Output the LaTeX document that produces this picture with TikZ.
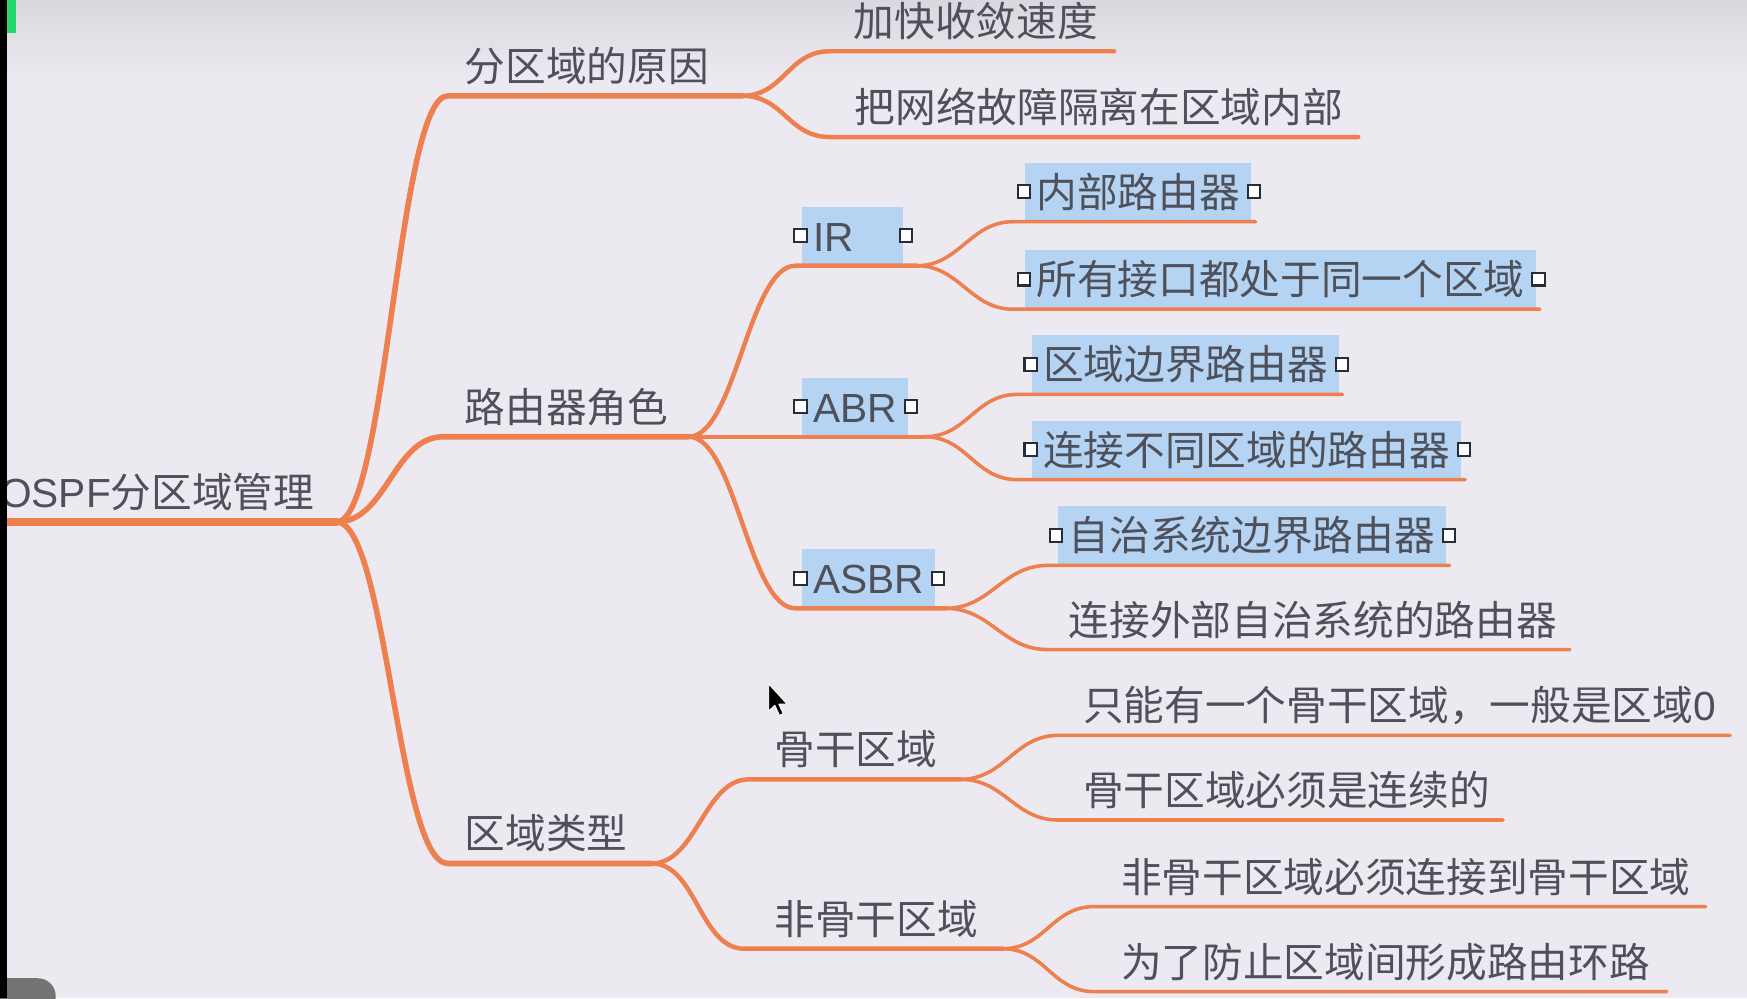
\documentclass[tikz,border=0pt]{standalone}
\usepackage{fontspec}
\newfontfamily\cjk{Noto Sans CJK SC}
\newfontfamily\lat{Liberation Sans}
\definecolor{bgc}{RGB}{236,233,240}
\definecolor{topc}{RGB}{218,216,222}
\definecolor{orc}{RGB}{238,128,80}
\definecolor{txtc}{RGB}{78,80,90}
\definecolor{hlc}{RGB}{181,211,243}
\definecolor{grn}{RGB}{40,214,110}
\definecolor{hdc}{RGB}{40,44,54}
\begin{document}
\begin{tikzpicture}[x=1pt,y=-1pt,
  txt/.style={font=\cjk\fontsize{36.5}{40}\selectfont, text=txtc, inner sep=0pt, anchor=base west},
  hlbox/.style={txt, fill=hlc, inner xsep=10pt, inner ysep=9pt, text height=31pt, text depth=3pt},
  handle/.style={draw=hdc, fill=white, line width=1.9pt, minimum width=11pt, minimum height=11.5pt, inner sep=0pt, rectangle},
  lk/.style={draw=orc, line cap=round, line join=round},
  l0/.style={lk, line width=7pt},
  l1/.style={lk, line width=5pt},
  l2/.style={lk, line width=4pt},
  l3/.style={lk, line width=3.2pt},
]
\useasboundingbox (0,0) rectangle (1568,896);
\fill[bgc] (0,0) rectangle (1568,896);
\shade[top color=topc, bottom color=bgc] (0,0) rectangle (1568,70);
\begin{scope}
\clip (0,0) rectangle (1568,896);

% coordinates (underline starts / junctions)
\coordinate (R0) at (7,468.5);
\coordinate (J0) at (302,468.5);
\coordinate (As) at (402,86);   \coordinate (Ja) at (666,86);
\coordinate (Bs) at (398,392);  \coordinate (J1) at (618,392);
\coordinate (Cs) at (402,775);  \coordinate (J3) at (585,775);
\coordinate (A1s) at (745,46);  \coordinate (A1e) at (1000,46);
\coordinate (A2s) at (745,123); \coordinate (A2e) at (1219,123);
\coordinate (IRs) at (714,238.5); \coordinate (JIR) at (823,238.5);
\coordinate (JABR) at (830,392);
\coordinate (ASs) at (714,546); \coordinate (JAS) at (849,546);
\coordinate (I1s) at (909,199);   \coordinate (I1e) at (1127,199);
\coordinate (I2s) at (909,277.5); \coordinate (I2e) at (1382,277.5);
\coordinate (B1s) at (913,354);   \coordinate (B1e) at (1205,354);
\coordinate (B2s) at (913,430.5); \coordinate (B2e) at (1315,430.5);
\coordinate (S1s) at (940,507.5); \coordinate (S1e) at (1301,507.5);
\coordinate (S2s) at (940,583);   \coordinate (S2e) at (1409,583);
\coordinate (BBs) at (672,699.5); \coordinate (JBB) at (862,699.5);
\coordinate (NBs) at (668,851.5); \coordinate (JNB) at (900,851.5);
\coordinate (K1s) at (950,660);   \coordinate (K1e) at (1553,660);
\coordinate (K2s) at (950,736);   \coordinate (K2e) at (1349,736);
\coordinate (N1s) at (982,813.7); \coordinate (N1e) at (1531,813.7);
\coordinate (N2s) at (982,890);   \coordinate (N2e) at (1496,890);

% topic nodes
\node[txt] (root) at (0,455.5) {{\lat OSPF}分区域管理};
\node[txt] (A) at (417,73) {分区域的原因};
\node[txt] (B) at (417,379) {路由器角色};
\node[txt] (C) at (417,762) {区域类型};
\node[txt] (A1) at (766,33) {加快收敛速度};
\node[txt] (A2) at (767,110) {把网络故障隔离在区域内部};
\node[hlbox] (IR) at (719.5,225.5) {{\lat IR}\kern34pt};
\node[hlbox] (ABR) at (719.5,379) {{\lat ABR}};
\node[hlbox] (ASBR) at (719.5,533) {{\lat ASBR}};
\node[hlbox] (I1) at (920,186) {内部路由器};
\node[hlbox] (I2) at (920,264.5) {所有接口都处于同一个区域};
\node[hlbox] (B1) at (926,341) {区域边界路由器};
\node[hlbox] (B2) at (926,417.5) {连接不同区域的路由器};
\node[hlbox] (S1) at (949,494.5) {自治系统边界路由器};
\node[txt] (S2) at (959,570) {连接外部自治系统的路由器};
\node[txt] (BB) at (695,686.5) {骨干区域};
\node[txt] (NB) at (695,838.5) {非骨干区域};
\node[txt] (K1) at (972,647) {只能有一个骨干区域，一般是区域{\lat 0}};
\node[txt] (K2) at (972,723) {骨干区域必须是连续的};
\node[txt] (N1) at (1006,800.7) {非骨干区域必须连接到骨干区域};
\node[txt] (N2) at (1006,877) {为了防止区域间形成路由环路};

% connectors
\draw[l0] (R0) -- (J0);
\draw[l1] (J0) .. controls +(45,0) and +(-45,0) .. (As) -- (Ja);
\draw[l1] (J0) .. controls +(45,0) and +(-45,0) .. (Bs) -- (J1);
\draw[l1] (J0) .. controls +(45,0) and +(-45,0) .. (Cs) -- (J3);
\draw[l2] (Ja) .. controls +(38,0) and +(-38,0) .. (A1s) -- (A1e);
\draw[l2] (Ja) .. controls +(38,0) and +(-38,0) .. (A2s) -- (A2e);
\draw[l2] (J1) .. controls +(42,0) and +(-42,0) .. (IRs) -- (JIR);
\draw[l2] (J1) -- (JABR);
\draw[l2] (J1) .. controls +(42,0) and +(-42,0) .. (ASs) -- (JAS);
\draw[l3] (JIR) .. controls +(38,0) and +(-38,0) .. (I1s) -- (I1e);
\draw[l3] (JIR) .. controls +(38,0) and +(-38,0) .. (I2s) -- (I2e);
\draw[l3] (JABR) .. controls +(38,0) and +(-38,0) .. (B1s) -- (B1e);
\draw[l3] (JABR) .. controls +(38,0) and +(-38,0) .. (B2s) -- (B2e);
\draw[l3] (JAS) .. controls +(40,0) and +(-40,0) .. (S1s) -- (S1e);
\draw[l3] (JAS) .. controls +(40,0) and +(-40,0) .. (S2s) -- (S2e);
\draw[l2] (J3) .. controls +(40,0) and +(-40,0) .. (BBs) -- (JBB);
\draw[l2] (J3) .. controls +(40,0) and +(-40,0) .. (NBs) -- (JNB);
\draw[l3] (JBB) .. controls +(40,0) and +(-40,0) .. (K1s) -- (K1e);
\draw[l3] (JBB) .. controls +(40,0) and +(-40,0) .. (K2s) -- (K2e);
\draw[l3] (JNB) .. controls +(38,0) and +(-38,0) .. (N1s) -- (N1e);
\draw[l3] (JNB) .. controls +(38,0) and +(-38,0) .. (N2s) -- (N2e);

% selection handles
\foreach \n in {IR,ABR,ASBR,I1,I2,B1,B2,S1}{
  \node[handle] (\n-hl) at ([xshift=-1pt]\n.west) {};
  \node[handle] (\n-hr) at ([xshift=2.5pt]\n.east) {};
}

% cursor
\fill[black, draw=white, line width=0.8pt, line join=round]
  (690,614) -- (690,638) -- (695.5,633) -- (699.5,642) -- (703,640.5)
  -- (699,632) -- (706.5,632) -- cycle;

% screen decorations
\fill[black!55, rounded corners=16pt] (-20,878) rectangle (50,930);
\fill[black] (0,0) rectangle (6,896);
\fill[grn] (6,0) rectangle (14,30);
\end{scope}
\end{tikzpicture}
\end{document}
